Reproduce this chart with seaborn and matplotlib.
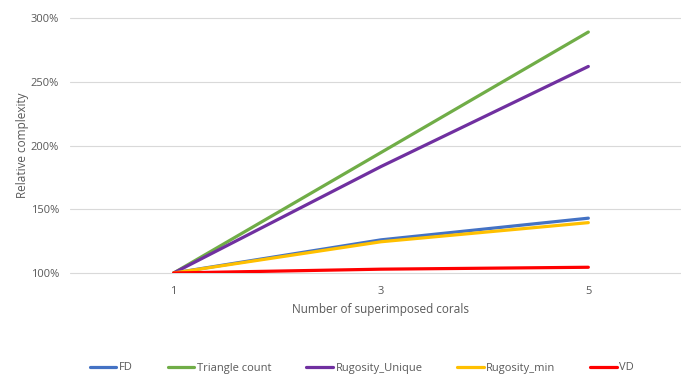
import pandas as pd
import matplotlib.pyplot as plt
import seaborn as sns
from matplotlib.ticker import PercentFormatter

# Data
corals = [1, 3, 5]
fd = [1.00, 1.26, 1.43]
triangle_count = [1.00, 1.945, 2.89]
rugosity_unique = [1.00, 1.835, 2.62]
rugosity_min = [1.00, 1.245, 1.395]
vd = [1.00, 1.03, 1.045]

series = ['FD', 'Triangle count', 'Rugosity_Unique', 'Rugosity_min', 'VD']
colors = ['#4472C4', '#70AD47', '#7030A0', '#FFC000', '#FF0000']

df = pd.DataFrame({
    'corals': corals * 5,
    'value': fd + triangle_count + rugosity_unique + rugosity_min + vd,
    'series': [s for s in series for _ in corals],
})

sns.set_theme(style='white')
plt.rcParams['font.family'] = ['Open Sans', 'DejaVu Sans']
text_color = '#595959'

fig = plt.figure(figsize=(6.81, 3.74), dpi=100)
ax = fig.add_axes([70 / 681, 1 - 273 / 374, 622 / 681, 255 / 374])

sns.lineplot(data=df, x='corals', y='value', hue='series', hue_order=series,
             palette=colors, linewidth=2.3, ax=ax, legend=True)

ax.set_xlim(0, 6)
ax.set_ylim(1.0, 3.0)
ax.set_xticks(corals)
ax.set_yticks([1.0, 1.5, 2.0, 2.5, 3.0])
ax.yaxis.set_major_formatter(PercentFormatter(1.0, decimals=0))
ax.grid(axis='y', color='#D9D9D9', linewidth=0.8)
for gl in ax.get_ygridlines():
    gl.set_clip_on(False)
ax.set_axisbelow(True)
for s in ax.spines.values():
    s.set_visible(False)
ax.tick_params(axis='both', length=0, labelsize=8, colors=text_color)
ax.tick_params(axis='y', pad=8)
ax.tick_params(axis='x', pad=9)

ax.set_xlabel('Number of superimposed corals', fontsize=8.5, color=text_color, labelpad=5)
ax.set_ylabel('Relative complexity', fontsize=8.5, color=text_color, labelpad=1.5)

handles, labels = ax.get_legend_handles_labels()
ax.legend_.remove()
leg = fig.legend(handles, labels, loc='center', bbox_to_anchor=(362 / 681, 1 - 368 / 374),
                 ncol=5, frameon=False, fontsize=8, handlelength=2.4, handletextpad=0.25,
                 columnspacing=3.1)
for t in leg.get_texts():
    t.set_color(text_color)

fig.savefig('out.png', dpi=100)
